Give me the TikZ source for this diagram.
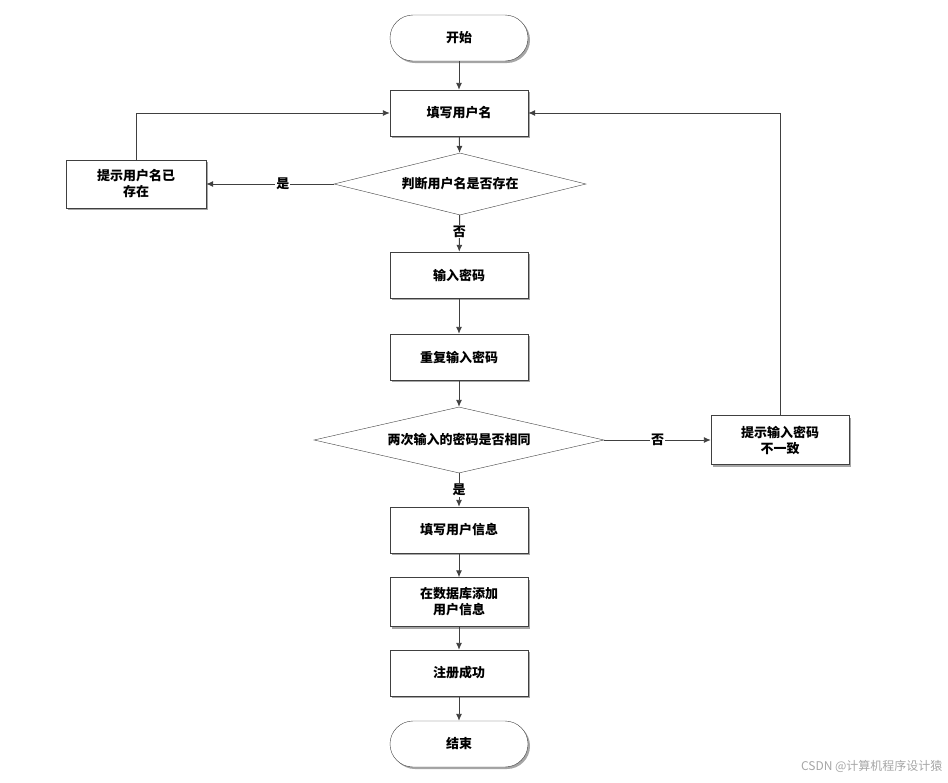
\documentclass[tikz,border=0pt]{standalone}
\usepackage{fontspec}
\setmainfont{Noto Sans CJK SC}
\usetikzlibrary{shapes.geometric,arrows.meta,shadows}
\begin{document}
\begin{tikzpicture}[x=1pt,y=-1pt,
  every node/.style={font=\fontsize{13}{16}\selectfont\bfseries},
  box/.style={draw=black!75,fill=white,minimum width=138pt,minimum height=46pt,align=center,inner sep=2pt,
    drop shadow={shadow xshift=2pt,shadow yshift=-2pt,fill=black!35,opacity=1}},
  term/.style={box,rounded corners=23pt},
  dia/.style={draw=black!75,fill=white,diamond,aspect=4,inner sep=0pt},
  ln/.style={draw=black!75,line width=0.9pt,-{Latex[length=7pt,width=6pt]}},
  lab/.style={fill=white,inner sep=1pt}]
\useasboundingbox (0,0) rectangle (948,782);
\node[term] (s) at (459,38) {开始};
\node[box] (n1) at (459,113) {填写用户名};
\node[dia,minimum width=252pt,minimum height=62pt] (d1) at (460,184) {判断用户名是否存在};
\node[box,minimum width=140pt,minimum height=48pt] (e1) at (136,184) {提示用户名已\\存在};
\node[box] (n2) at (459,275) {输入密码};
\node[box] (n3) at (459,357) {重复输入密码};
\node[dia,minimum width=290pt,minimum height=66pt] (d2) at (459,440) {两次输入的密码是否相同};
\node[box,minimum width=138pt,minimum height=49pt] (e2) at (780,440) {提示输入密码\\不一致};
\node[box] (n4) at (459,530) {填写用户信息};
\node[box,minimum height=49pt] (n5) at (459,602) {在数据库添加\\用户信息};
\node[box] (n6) at (459,673) {注册成功};
\node[term] (t) at (459,744) {结束};
\draw[ln] (s) -- (n1);
\draw[ln] (n1) -- (d1);
\draw[ln] (d1) -- node[lab,pos=0.4]{是} (e1);
\draw[ln] (d1) -- node[lab,pos=0.45]{否} (n2);
\draw[ln] (n2) -- (n3);
\draw[ln] (n3) -- (d2);
\draw[ln] (d2) -- node[lab,pos=0.5]{否} (e2);
\draw[ln] (d2) -- node[lab,pos=0.5]{是} (n4);
\draw[ln] (n4) -- (n5);
\draw[ln] (n5) -- (n6);
\draw[ln] (n6) -- (t);
\draw[ln] (e1.north) |- (n1.west);
\draw[ln] (e2.north) |- (n1.east);
\node[font=\fontsize{12}{14}\selectfont,text=black!35,anchor=east] (w) at (946,766) {CSDN @计算机程序设计猿};
\end{tikzpicture}
\end{document}
